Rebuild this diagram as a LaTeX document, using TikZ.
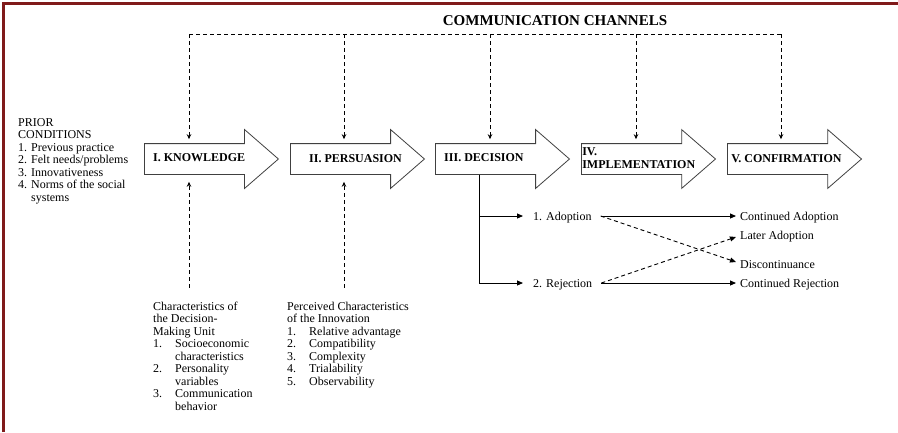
\documentclass[tikz,border=0pt]{standalone}
\usepackage{fontspec}
\setmainfont{Liberation Serif}
\usetikzlibrary{positioning,shapes.arrows,arrows.meta}

\definecolor{framered}{RGB}{128,26,26}

\begin{document}
\begin{tikzpicture}[x=1pt,y=-1pt,
	stagearrow/.style={single arrow, draw=black!75, line width=0.8pt, fill=white,
		minimum height=134pt, single arrow head extend=14pt,
		single arrow tip angle=82, inner xsep=0pt, inner ysep=15pt},
	stagetext/.style={font=\fontsize{12}{13}\selectfont\bfseries, align=left, inner sep=0pt, anchor=west},
	bodytext/.style={font=\fontsize{12}{12.5}\selectfont, align=left, inner sep=0pt},
	outcome/.style={font=\fontsize{12}{12.5}\selectfont, inner sep=0pt, text height=8.5pt, text depth=0pt},
	chanline/.style={dash pattern=on 4pt off 3pt, line width=0.9pt},
	chanarrow/.style={chanline, -{Stealth[length=5pt,width=4.5pt]}},
	pathline/.style={line width=0.9pt, -{Triangle[length=6pt,width=5pt]}},
	crossline/.style={chanline, -{Triangle[length=6pt,width=5pt]}}]
	
	% 1. Marco y area
	\useasboundingbox (0,0) rectangle (898,432);
	\draw[framered, line width=2.5pt] (3.5,432) -- (3.5,3.5) -- (898,3.5);
	
	% 2. Etapas (flechas grandes)
	\node[stagearrow, anchor=west] (know) at (144,159) {};
	\node[stagearrow, right=11pt of know] (pers) {};
	\node[stagearrow, right=10pt of pers] (dec) {};
	\node[stagearrow, right=11pt of dec] (impl) {};
	\node[stagearrow, right=11pt of impl] (conf) {};
	
	\node[stagetext] (knowtxt) at ([xshift=9pt,yshift=1.5pt]know.west) {I. KNOWLEDGE};
	\node[stagetext] (perstxt) at ([xshift=19pt,yshift=0.5pt]pers.west) {II. PERSUASION};
	\node[stagetext] (dectxt) at ([xshift=9pt,yshift=1pt]dec.west) {III. DECISION};
	\node[stagetext] (impltxt) at ([xshift=1pt,yshift=1pt]impl.west) {IV.\\IMPLEMENTATION};
	\node[stagetext] (conftxt) at ([xshift=4pt,yshift=0.5pt]conf.west) {V. CONFIRMATION};
	
	% 3. Canales de comunicacion
	\node[font=\fontsize{15}{16}\selectfont\bfseries, inner sep=0pt] (chan) at (555,20.5) {COMMUNICATION CHANNELS};
	\foreach \s/\x in {know/189, pers/344, dec/490, impl/636, conf/781} {
		\coordinate (top-\s) at (\x,34);
		\draw[chanarrow, shorten >=4pt] (top-\s) -- (top-\s |- \s.north);
	}
	\draw[chanline] (top-know) -- (top-conf);
	
	% 4. Condiciones previas
	\node[bodytext, anchor=north west] (prior) at (18,118) {PRIOR\\CONDITIONS\\1. Previous practice\\2. Felt needs/problems\\3. Innovativeness\\4. Norms of the social\\\phantom{4. }systems};
	
	% 5. Caracteristicas (abajo)
	\node[bodytext, anchor=north west] (dmu) at (153,301.5) {Characteristics of\\the Decision-\\Making Unit\\
		\makebox[22pt][l]{1.}Socioeconomic\\\hspace*{22pt}characteristics\\
		\makebox[22pt][l]{2.}Personality\\\hspace*{22pt}variables\\
		\makebox[22pt][l]{3.}Communication\\\hspace*{22pt}behavior};
	\node[bodytext, anchor=north west] (innov) at (287,301.5) {Perceived Characteristics\\of the Innovation\\
		\makebox[22pt][l]{1.}Relative advantage\\
		\makebox[22pt][l]{2.}Compatibility\\
		\makebox[22pt][l]{3.}Complexity\\
		\makebox[22pt][l]{4.}Trialability\\
		\makebox[22pt][l]{5.}Observability};
	\draw[chanarrow, shorten <=14pt, shorten >=7pt] (top-know |- dmu.north) -- (top-know |- know.south);
	\draw[chanarrow, shorten <=14pt, shorten >=7pt] (top-pers |- innov.north) -- (top-pers |- pers.south);
	
	% 6. Adopcion / rechazo
	\coordinate (split) at (479,0);
	\node[outcome, anchor=west] (adopt) at (533,216) {1. Adoption};
	\node[outcome, anchor=west] (reject) at (533,283) {2. Rejection};
	\node[outcome, anchor=west] (contadopt) at (740,216) {Continued Adoption};
	\node[outcome, anchor=west] (later) at (740,235) {Later Adoption};
	\node[outcome, anchor=west] (discont) at (740,264) {Discontinuance};
	\node[outcome, anchor=west] (contreject) at (740,283) {Continued Rejection};
	
	\draw[pathline, shorten >=10pt] (split |- dec.south) |- (adopt.west);
	\draw[pathline, shorten >=10pt] (split |- dec.south) |- (reject.west);
	\draw[pathline, shorten >=4pt] ([xshift=9pt]adopt.east) -- (contadopt.west);
	\draw[pathline, shorten >=4pt] ([xshift=9pt]reject.east) -- (contreject.west);
	\draw[crossline] ([xshift=9pt]adopt.east) -- ([xshift=-4pt,yshift=2pt]discont.west);
	\draw[crossline] ([xshift=9pt]reject.east) -- ([xshift=-4pt,yshift=-2pt]later.west);
	
\end{tikzpicture}
\end{document}
